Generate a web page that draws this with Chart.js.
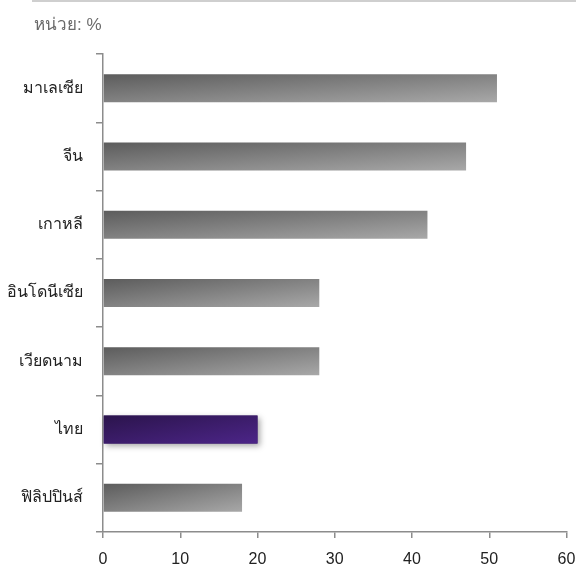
<!DOCTYPE html>
<html>
<head>
<meta charset="utf-8">
<script src="https://cdn.jsdelivr.net/npm/chart.js@4.4.1/dist/chart.umd.min.js"></script>
<style>
  html, body { margin: 0; padding: 0; background: #fff; }
  #wrap { position: relative; width: 576px; height: 572px; }
  #rule { position: absolute; left: 32px; top: 0; width: 544px; height: 0; border-top: 2px solid #cfcfcf; }
  #unit { position: absolute; left: 34px; top: 10px; font: 17px "Liberation Sans", "Noto Sans", sans-serif; color: #6a6a6a; }
  canvas { position: absolute; left: 0; top: 0; }
</style>
</head>
<body>
<div id="wrap">
  <canvas id="c" width="576" height="572"></canvas>
  <div id="rule"></div>
  <div id="unit">หน่วย: %</div>
</div>
<script>
// Countries and their shares (%)
const countries = ['มาเลเซีย', 'จีน', 'เกาหลี', 'อินโดนีเซีย', 'เวียดนาม', 'ไทย', 'ฟิลิปปินส์'];
const shares = [51, 47, 42, 28, 28, 20, 18];
const highlight = 'ไทย';
const xTicks = [0, 10, 20, 30, 40, 50, 60];

const BAR_FRACTION = 0.41;

// Diagonal gradient across one bar, computed from the scales
function barGradient(ctx, chart, index, from, to) {
  const xs = chart.scales.x, ys = chart.scales.y;
  const left = xs.getPixelForValue(0);
  const right = xs.getPixelForValue(shares[index]);
  const step = Math.abs(ys.getPixelForValue(1) - ys.getPixelForValue(0));
  const h = step * BAR_FRACTION;
  const top = ys.getPixelForValue(index) - h / 2;
  const w = Math.max(right - left, 1);
  const a = 0.5 / w, b = 0.5 / h;
  const n = a * a + b * b;
  const g = ctx.createLinearGradient(left, top, left + a / n, top + b / n);
  g.addColorStop(0, from);
  g.addColorStop(1, to);
  return g;
}

// Soft shadow behind the highlighted bar
const shadowPlugin = {
  id: 'barShadow',
  beforeDatasetsDraw(chart) {
    const meta = chart.getDatasetMeta(0);
    const i = countries.indexOf(highlight);
    const el = meta.data[i];
    if (!el) return;
    const ctx = chart.ctx;
    const p = el.getProps(['x', 'y', 'base', 'height'], true);
    ctx.save();
    ctx.shadowColor = 'rgba(0,0,0,0.35)';
    ctx.shadowBlur = 6;
    ctx.shadowOffsetX = 2;
    ctx.shadowOffsetY = 2;
    ctx.fillStyle = '#3a1c68';
    ctx.fillRect(p.base, p.y - p.height / 2, p.x - p.base, p.height);
    ctx.restore();
  }
};

const tickFont = { family: '"Liberation Sans", "Noto Sans", sans-serif', size: 16 };

new Chart(document.getElementById('c'), {
  type: 'bar',
  data: {
    labels: countries,
    datasets: [{
      data: shares,
      borderWidth: 0,
      barPercentage: BAR_FRACTION,
      categoryPercentage: 1,
      backgroundColor(c) {
        const chart = c.chart;
        if (!chart.chartArea || !chart.scales.x) return '#888';
        const isHi = countries[c.dataIndex] === highlight;
        return isHi
          ? barGradient(chart.ctx, chart, c.dataIndex, '#2b144c', '#4c2588')
          : barGradient(chart.ctx, chart, c.dataIndex, '#5c5c5c', '#a8a8a8');
      }
    }]
  },
  options: {
    indexAxis: 'y',
    responsive: false,
    animation: false,
    layout: { padding: { top: 54, right: 9.5, bottom: 0, left: 0 } },
    plugins: { legend: { display: false }, tooltip: { enabled: false } },
    scales: {
      x: {
        min: 0, max: 60,
        afterBuildTicks(s) { s.ticks = xTicks.map(v => ({ value: v })); },
        afterFit(s) { s.height = 40; s.paddingLeft = 0; s.paddingRight = 0; },
        grid: { drawOnChartArea: false, drawTicks: true, tickLength: 6, color: '#8c8c8c', lineWidth: 1.5 },
        border: { display: true, color: '#8c8c8c', width: 1.5 },
        ticks: { color: '#222', font: tickFont, padding: 12, maxRotation: 0 }
      },
      y: {
        afterFit(s) { s.width = 103; },
        grid: { drawOnChartArea: false, drawTicks: true, tickLength: 7, color: '#8c8c8c', lineWidth: 1.5, offset: true },
        border: { display: true, color: '#8c8c8c', width: 1.5 },
        ticks: { color: '#222', font: tickFont, padding: 13 }
      }
    }
  },
  plugins: [shadowPlugin]
});
</script>
</body>
</html>
